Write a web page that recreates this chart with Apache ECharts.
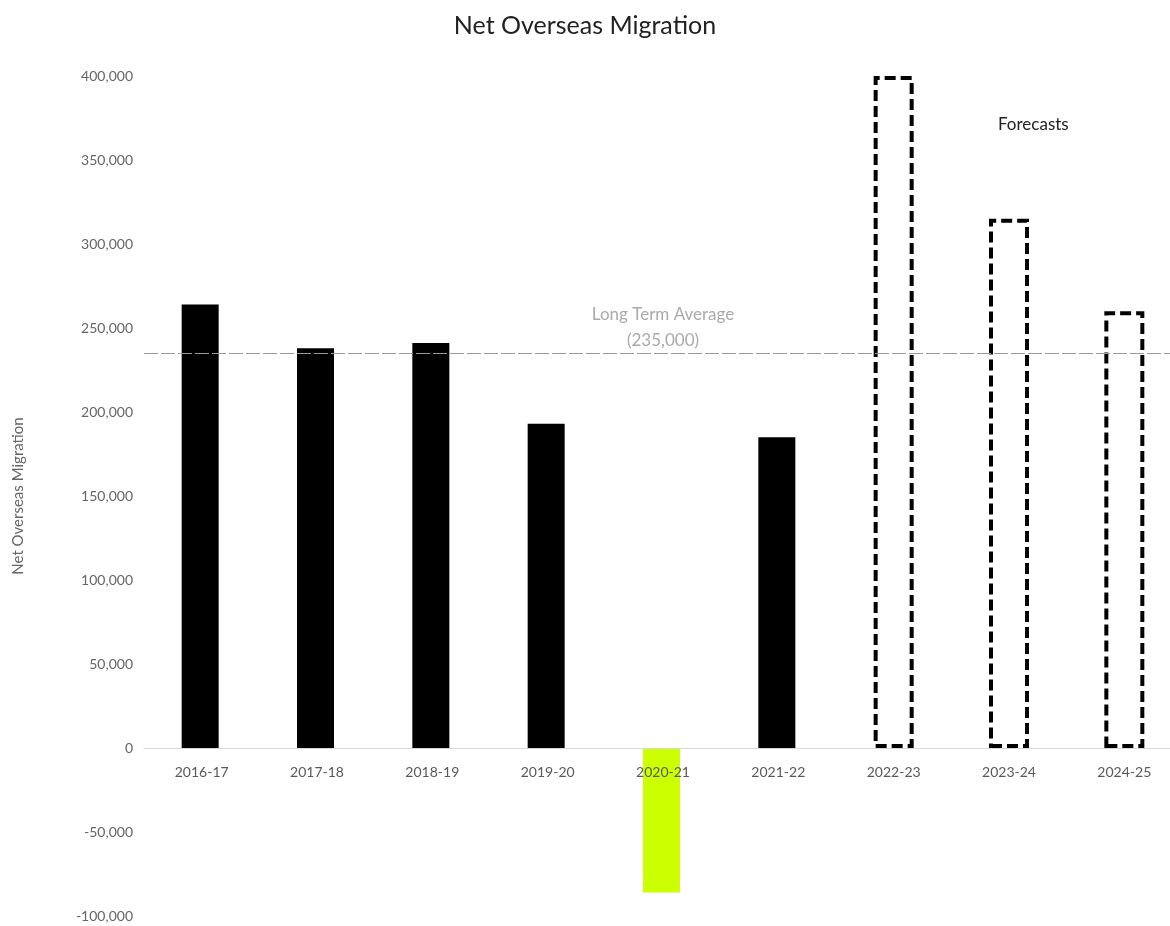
<!DOCTYPE html>
<html>
<head>
<meta charset="utf-8">
<script src="https://cdn.jsdelivr.net/npm/echarts@6/dist/echarts.min.js"></script>
<style>
  html, body { margin: 0; padding: 0; background: #fff; }
  #chart { width: 1170px; height: 926px; }
</style>
</head>
<body>
<div id="chart"></div>
<script>
// Financial years shown on the category axis
const years = ['2016-17', '2017-18', '2018-19', '2019-20', '2020-21', '2021-22', '2022-23', '2023-24', '2024-25'];
// Recorded net overseas migration (null where only a forecast exists)
const actuals = [264000, 238000, 241000, 193000, -86000, 185000, null, null, null];
// Forecast net overseas migration (null where recorded)
const forecasts = [null, null, null, null, null, null, 400000, 315000, 260000];
// Long term average reference level
const longTermAverage = 235000;
const yTicks = { min: -100000, max: 400000, step: 50000 };

const fmt = v => v.toLocaleString('en-US');
const font = 'Lato';

// Grid geometry; the category axis sits on the zero line
const gridTop = 76, gridBottom = 10, chartHeight = 926;
const plotHeight = chartHeight - gridTop - gridBottom;
const zeroOffset = -plotHeight * (0 - yTicks.min) / (yTicks.max - yTicks.min);

const chart = echarts.init(document.getElementById('chart'), null, { renderer: 'canvas' });
chart.setOption({
  backgroundColor: '#fff',
  animation: false,
  textStyle: { fontFamily: font },
  title: {
    text: 'Net Overseas Migration',
    left: 'center',
    top: 8,
    textStyle: { fontFamily: font, fontSize: 25, fontWeight: 'normal', color: '#222' }
  },
  grid: { left: 144, right: -12, top: gridTop, bottom: gridBottom, containLabel: false, outerBoundsMode: 'none' },
  xAxis: {
    type: 'category',
    data: years,
    z: 5,
    offset: zeroOffset,
    axisLine: { onZero: false, lineStyle: { color: '#d9d9d9', width: 1 } },
    axisTick: { show: false },
    axisLabel: { color: '#595959', fontSize: 14, margin: 17, fontFamily: font }
  },
  yAxis: {
    type: 'value',
    min: yTicks.min,
    max: yTicks.max,
    interval: yTicks.step,
    name: 'Net Overseas Migration',
    nameLocation: 'middle',
    nameGap: 118,
    nameTextStyle: { color: '#666', fontSize: 15, fontFamily: font },
    axisLine: { show: false },
    axisTick: { show: false },
    splitLine: { show: false },
    axisLabel: { color: '#666', fontSize: 14, margin: 11, fontFamily: font, formatter: fmt }
  },
  series: [
    {
      name: 'Actual',
      type: 'bar',
      data: actuals,
      barWidth: 37,
      barGap: '-100%',
      itemStyle: {
        color: p => (p.value < 0 ? '#ccff00' : '#000')
      },
      markLine: {
        silent: true,
        symbol: ['none', 'none'],
        lineStyle: { color: '#9a9a9a', type: [14, 3], width: 1 },
        label: {
          position: 'middle',
          distance: 0,
          color: '#aaa',
          fontSize: 17,
          lineHeight: 26,
          fontFamily: font,
          formatter: () => 'Long Term Average\n(' + fmt(longTermAverage) + ')'
        },
        data: [{ yAxis: longTermAverage }]
      }
    },
    {
      name: 'Forecast',
      type: 'bar',
      data: forecasts,
      barWidth: 40,
      itemStyle: {
        color: '#fff',
        borderColor: '#000',
        borderWidth: 4,
        borderType: [11, 5]
      }
    }
  ],
  graphic: [
    {
      type: 'text',
      left: 998,
      top: 116,
      style: { text: 'Forecasts', fill: '#222', fontSize: 17, fontFamily: font }
    }
  ]
});
</script>
</body>
</html>
